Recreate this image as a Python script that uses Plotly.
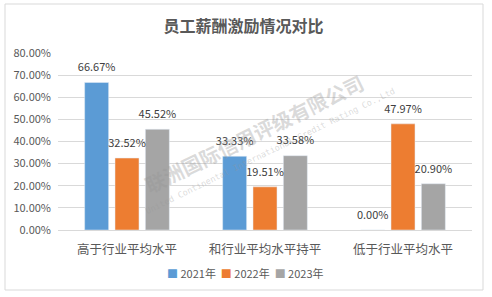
import plotly.graph_objects as go

categories = ["高于行业平均水平", "和行业平均水平持平", "低于行业平均水平"]
series_names = ["2021年", "2022年", "2023年"]
v2021 = [66.67, 33.33, 0.00]
v2022 = [32.52, 19.51, 47.97]
v2023 = [45.52, 33.58, 20.90]
colors = ["#5B9BD5", "#ED7D31", "#A5A5A5"]
y_ticks = [0, 10, 20, 30, 40, 50, 60, 70, 80]

font = "Microsoft YaHei, Noto Sans CJK SC, sans-serif"
GAP = 0.34

fig = go.Figure()
for i, (name, vals, c) in enumerate(zip(series_names, [v2021, v2022, v2023], colors)):
    fig.add_trace(go.Bar(
        x=categories, y=vals, name=name, marker_color=c,
        offsetgroup=str(i), showlegend=False,
    ))
for i, (name, vals) in enumerate(zip(series_names, [v2021, v2022, v2023])):
    fig.add_trace(go.Scatter(
        x=categories, y=vals, mode="markers+text", offsetgroup=str(i),
        marker=dict(size=12, opacity=0), showlegend=False, hoverinfo="skip",
        text=[f"{v:.2f}%" for v in vals], textposition="top center",
        cliponaxis=False,
        textfont=dict(size=11, color="#404040", family=font),
    ))

legend_html = "&nbsp;&nbsp;".join(
    f"<span style='color:{c}'>■</span> {n}" for n, c in zip(series_names, colors))

fig.update_layout(
    width=492, height=297,
    margin=dict(l=58, r=20, t=53, b=67),
    paper_bgcolor="white", plot_bgcolor="white",
    barmode="group", bargap=GAP, bargroupgap=0.21,
    scattermode="group", scattergap=GAP,
    title=dict(text="<b>员工薪酬激励情况对比</b>", x=0.495, xanchor="center",
               y=1 - 26 / 297, yanchor="middle",
               font=dict(size=16, color="#595959", family=font)),
    showlegend=False,
    font=dict(family=font),
)
fig.update_yaxes(range=[0, 80], tickvals=y_ticks,
                 ticktext=[f"{t:.2f}%" for t in y_ticks],
                 showgrid=True, gridcolor="#D9D9D9", gridwidth=1,
                 zeroline=False, showline=False, ticks="", ticklen=0,
                 ticklabelstandoff=6,
                 tickfont=dict(size=11, color="#595959", family=font))
fig.update_xaxes(showline=True, linecolor="#D9D9D9", linewidth=1, ticks="",
                 ticklabelstandoff=8,
                 tickfont=dict(size=12.5, color="#595959", family=font))

# legend (compact, as in the reference)
fig.add_annotation(text=legend_html, xref="paper", yref="paper",
                   x=(245 - 58) / 414, y=(230 - 273) / 177, showarrow=False,
                   xanchor="center", yanchor="middle",
                   font=dict(size=11, color="#595959", family=font))

# outer chart border
fig.add_shape(type="rect", xref="paper", yref="paper",
              x0=(5 - 58) / 414, x1=(483 - 58) / 414,
              y0=(230 - 290) / 177, y1=(230 - 4) / 177,
              line=dict(color="#D9D9D9", width=1), layer="below")

# watermark
fig.add_annotation(text="<b>联洲国际信用评级有限公司</b>", xref="paper", yref="paper",
                   x=(254 - 58) / 414, y=(230 - 133) / 177, showarrow=False,
                   textangle=-26, font=dict(size=20, color="rgba(150,150,150,0.35)", family=font))
fig.add_annotation(text="United Continental International Credit Rating Co.,Ltd", xref="paper", yref="paper",
                   x=(270 - 58) / 414, y=(230 - 151) / 177, showarrow=False,
                   textangle=-26, font=dict(size=8.5, color="rgba(150,150,150,0.35)", family="DejaVu Sans Mono"))

fig.write_html("out.html")
